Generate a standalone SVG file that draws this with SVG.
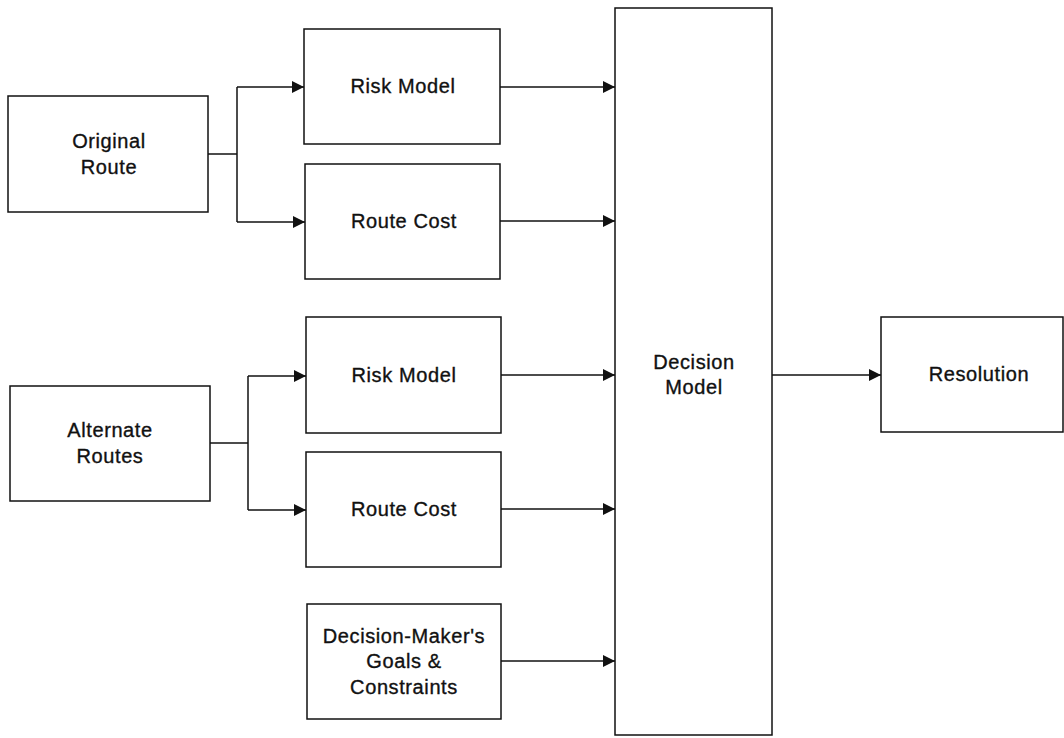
<svg xmlns="http://www.w3.org/2000/svg" width="1064" height="738" viewBox="0 0 1064 738">
  <style>
    .box { fill: #ffffff; stroke: #111111; stroke-width: 1.5; }
    .lbl { font-family: "Liberation Sans", Arial, Helvetica, sans-serif; font-size: 20px; letter-spacing: 0.6px; fill: #111111; stroke: #111111; stroke-width: 0.35; text-anchor: middle; }
    .wire { fill: none; stroke: #111111; stroke-width: 1.5; }
  </style>
  <defs>
    <marker id="arrow" markerUnits="userSpaceOnUse" markerWidth="13" markerHeight="12" refX="12" refY="6" orient="auto">
      <path d="M0,0 L12,6 L0,12 Z" fill="#111111"/>
    </marker>
  </defs>
  <rect width="1064" height="738" fill="#ffffff"/>

  <g id="connectors">
    <!-- Original Route fan-out -->
    <path class="wire" d="M208,154 H237"/>
    <path class="wire" d="M237,87 V222"/>
    <path class="wire" d="M237,87 H304" marker-end="url(#arrow)"/>
    <path class="wire" d="M237,222 H305" marker-end="url(#arrow)"/>
    <!-- Alternate Routes fan-out -->
    <path class="wire" d="M210,443 H248"/>
    <path class="wire" d="M248,376 V510"/>
    <path class="wire" d="M248,376 H306" marker-end="url(#arrow)"/>
    <path class="wire" d="M248,510 H306" marker-end="url(#arrow)"/>
    <!-- inputs to Decision Model -->
    <path class="wire" d="M500,87 H615" marker-end="url(#arrow)"/>
    <path class="wire" d="M500,221 H615" marker-end="url(#arrow)"/>
    <path class="wire" d="M501,375 H615" marker-end="url(#arrow)"/>
    <path class="wire" d="M501,509 H615" marker-end="url(#arrow)"/>
    <path class="wire" d="M501,661 H615" marker-end="url(#arrow)"/>
    <!-- Decision Model to Resolution -->
    <path class="wire" d="M772,375 H881" marker-end="url(#arrow)"/>
  </g>

  <g id="original-route">
    <rect class="box" x="8" y="96" width="200" height="116"/>
    <text class="lbl" x="109" y="148">Original</text>
    <text class="lbl" x="109" y="174">Route</text>
  </g>

  <g id="alternate-routes">
    <rect class="box" x="10" y="386" width="200" height="115"/>
    <text class="lbl" x="110" y="437">Alternate</text>
    <text class="lbl" x="110" y="463">Routes</text>
  </g>

  <g id="risk-model-original">
    <rect class="box" x="304" y="29" width="196" height="115"/>
    <text class="lbl" x="403" y="93">Risk Model</text>
  </g>

  <g id="route-cost-original">
    <rect class="box" x="305" y="164" width="195" height="115"/>
    <text class="lbl" x="404" y="228">Route Cost</text>
  </g>

  <g id="risk-model-alternate">
    <rect class="box" x="306" y="317" width="195" height="116"/>
    <text class="lbl" x="404" y="382">Risk Model</text>
  </g>

  <g id="route-cost-alternate">
    <rect class="box" x="306" y="452" width="195" height="115"/>
    <text class="lbl" x="404" y="516">Route Cost</text>
  </g>

  <g id="goals-constraints">
    <rect class="box" x="307" y="604" width="194" height="115"/>
    <text class="lbl" x="404" y="643">Decision-Maker's</text>
    <text class="lbl" x="404" y="668">Goals &amp;</text>
    <text class="lbl" x="404" y="694">Constraints</text>
  </g>

  <g id="decision-model">
    <rect class="box" x="615" y="8" width="157" height="727"/>
    <text class="lbl" x="694" y="369">Decision</text>
    <text class="lbl" x="694" y="394">Model</text>
  </g>

  <g id="resolution">
    <rect class="box" x="881" y="317" width="182" height="115"/>
    <text class="lbl" x="979" y="381">Resolution</text>
  </g>
</svg>
